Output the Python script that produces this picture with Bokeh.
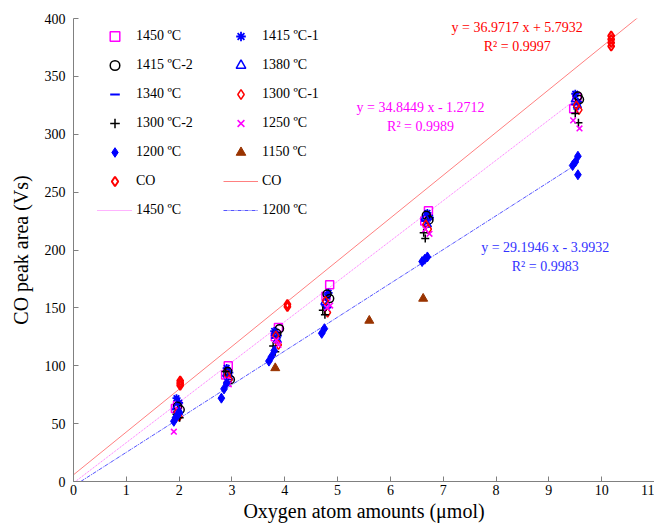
from bokeh.plotting import figure
from bokeh.models import Legend, LegendItem, Label, Range1d, FixedTicker
from bokeh.embed import file_html
from bokeh.resources import INLINE

# ---- data ----
x_1450 = [1.93, 1.97, 2.88, 2.93, 3.82, 3.88, 4.78, 4.85, 6.65, 6.72, 9.47, 9.53]
y_1450 = [63, 66, 92, 100, 125, 133, 160, 170, 225, 234, 322, 332]

x_1415_1 = [1.95, 2.00, 2.90, 2.95, 3.80, 3.87, 4.80, 4.83, 6.70, 6.75, 9.50, 9.55]
y_1415_1 = [72, 68, 98, 94, 130, 126, 160, 163, 232, 228, 335, 328]

x_1415_2 = [1.97, 2.02, 2.92, 2.97, 3.90, 3.85, 4.80, 4.85, 6.68, 6.73, 9.55, 9.58]
y_1415_2 = [65, 62, 95, 88, 132, 128, 162, 158, 230, 226, 333, 330]

x_1380 = [1.95, 1.99, 2.90, 2.94, 3.82, 3.86, 4.76, 4.80, 6.66, 6.70, 9.50, 9.54]
y_1380 = [64, 60, 93, 90, 128, 122, 155, 152, 228, 222, 330, 325]

x_1340 = [1.94, 1.98, 2.89, 2.93, 3.80, 3.84, 4.75, 4.79, 6.64, 6.69, 9.48, 9.52]
y_1340 = [60, 58, 90, 86, 124, 120, 152, 150, 225, 220, 326, 322]

x_1300_1 = [1.96, 2.00, 2.91, 2.95, 3.83, 3.88, 4.77, 4.81, 6.67, 6.72, 9.52, 9.57]
y_1300_1 = [60, 56, 92, 88, 126, 118, 156, 146, 222, 218, 325, 321]

x_1300_2 = [1.95, 2.01, 2.88, 2.92, 3.78, 3.82, 4.72, 4.76, 6.63, 6.66, 9.50, 9.56]
y_1300_2 = [58, 55, 95, 86, 117, 112, 148, 144, 215, 210, 318, 310]

x_1250 = [1.90, 1.98, 2.90, 2.94, 3.84, 3.88, 4.80, 4.86, 6.66, 6.74, 9.46, 9.58]
y_1250 = [43, 62, 88, 84, 122, 118, 150, 152, 218, 214, 312, 305]

x_1200 = [1.90, 1.93, 1.97, 2.00, 2.80, 2.85, 2.90, 3.70, 3.75, 3.80,
          4.70, 4.75, 6.60, 6.65, 6.70, 9.45, 9.50, 9.55, 9.55]
y_1200 = [52, 55, 57, 60, 72, 80, 85, 104, 108, 113,
          128, 132, 190, 192, 194, 273, 276, 281, 265]

x_1150 = [3.82, 5.60, 6.62]
y_1150 = [98, 139, 158]

x_co = [2.02, 2.02, 2.02, 4.05, 4.05, 10.18, 10.18, 10.18, 10.18]
y_co = [83, 85, 87, 151, 153, 376, 379, 382, 385]

# linear fits: slope, intercept, x-extent
fit_co = (36.9717, 5.7932, 0.0, 11.0)
fit_1450 = (34.8449, -1.2712, 0.04, 9.5)
fit_1200 = (29.1946, -3.9932, 0.14, 9.5)

eq_co = ["y = 36.9717 x + 5.7932", "R\u00b2 = 0.9997"]
eq_1450 = ["y = 34.8449 x - 1.2712", "R\u00b2 = 0.9989"]
eq_1200 = ["y = 29.1946 x - 3.9932", "R\u00b2 = 0.9983"]

x_ticks = list(range(0, 12))
y_ticks = list(range(0, 401, 50))

FONT = "Liberation Serif"

p = figure(width=654, height=524, output_backend="svg", toolbar_location=None,
           x_range=Range1d(0, 11), y_range=Range1d(0, 400),
           min_border_left=73, min_border_right=0, min_border_top=18, min_border_bottom=41)
p.outline_line_color = None
p.grid.visible = False

for ax in (p.xaxis[0], p.yaxis[0]):
    ax.axis_line_color = "#808080"
    ax.major_tick_line_color = "#808080"
    ax.major_tick_in = 5
    ax.major_tick_out = 0
    ax.minor_tick_line_color = None
    ax.major_label_text_font = FONT
    ax.major_label_text_font_size = "14px"
    ax.major_label_text_color = "black"
    ax.axis_label_text_font = FONT
    ax.axis_label_text_font_size = "20px"
    ax.axis_label_text_font_style = "normal"
    ax.axis_label_text_color = "black"

p.xaxis.major_label_standoff = 3
p.xaxis.axis_label_standoff = 2
p.yaxis.major_label_standoff = 8
p.yaxis.axis_label_standoff = 10

p.xaxis.ticker = FixedTicker(ticks=x_ticks)
p.yaxis.ticker = FixedTicker(ticks=y_ticks)
p.xaxis.axis_label = "Oxygen atom amounts (\u03bcmol)"
p.yaxis.axis_label = "CO peak area (Vs)"

# fit lines
def fit_line(fit, **kw):
    m, b, x0, x1 = fit
    return p.line([x0, x1], [m * x0 + b, m * x1 + b], **kw)

r_lco = fit_line(fit_co, line_color="#ff8080", line_width=1)
r_l1450 = fit_line(fit_1450, line_color="#ff66ff", line_width=1, line_dash="1 1")
r_l1200 = fit_line(fit_1200, line_color="#5555ff", line_width=1, line_dash="4 1 1 1")

STYLES = {
    "1450": dict(marker="square", fill_color=None, line_color="#ff00ff", line_width=1.5),
    "1415_1": dict(marker="asterisk", line_color="#0000ff", line_width=1.8),
    "1415_2": dict(marker="circle", fill_color=None, line_color="black", line_width=1.5),
    "1380": dict(marker="triangle", fill_color=None, line_color="#0000ff", line_width=1.5),
    "1340": dict(marker="dash", line_color="#0000ff", line_width=2),
    "1300_1": dict(marker="diamond", fill_color=None, line_color="#ff0000", line_width=1.5),
    "1300_2": dict(marker="cross", line_color="black", line_width=1.5),
    "1250": dict(marker="x", line_color="#ff00ff", line_width=1.5),
    "1200": dict(marker="diamond", fill_color="#0000ff", line_color="#0000ff", line_width=1),
    "1150": dict(marker="triangle", fill_color="#993300", line_color="#993300", line_width=1),
    "co": dict(marker="diamond", fill_color=None, line_color="#ff0000", line_width=2),
}
SIZES = {"1450": 8, "1415_1": 8, "1415_2": 8, "1380": 8, "1340": 6, "1300_1": 9,
         "1300_2": 8, "1250": 8, "1200": 10, "1150": 9, "co": 9}

DATA = {
    "1450": (x_1450, y_1450), "1415_1": (x_1415_1, y_1415_1),
    "1415_2": (x_1415_2, y_1415_2), "1380": (x_1380, y_1380),
    "1340": (x_1340, y_1340), "1300_1": (x_1300_1, y_1300_1),
    "1300_2": (x_1300_2, y_1300_2), "1250": (x_1250, y_1250),
    "1200": (x_1200, y_1200), "1150": (x_1150, y_1150), "co": (x_co, y_co),
}
LABELS = {"1450": "1450 \u00baC", "1415_1": "1415 \u00baC-1", "1415_2": "1415 \u00baC-2",
          "1380": "1380 \u00baC", "1340": "1340 \u00baC", "1300_1": "1300 \u00baC-1",
          "1300_2": "1300 \u00baC-2", "1250": "1250 \u00baC", "1200": "1200 \u00baC",
          "1150": "1150 \u00baC", "co": "CO"}

items = []
for k in DATA:
    xs, ys = DATA[k]
    r = p.scatter(xs, ys, size=SIZES[k], **STYLES[k])
    items.append(LegendItem(label=LABELS[k], renderers=[r]))

items += [
    LegendItem(label="CO", renderers=[r_lco]),
    LegendItem(label="1450 \u00baC", renderers=[r_l1450]),
    LegendItem(label="1200 \u00baC", renderers=[r_l1200]),
]
legend = Legend(items=items, orientation="horizontal", ncols=2,
                location=(24, 259), padding=0, margin=0, spacing=5,
                glyph_width=35, glyph_height=24, label_height=24, label_width=82,
                label_standoff=4,
                label_text_font=FONT, label_text_font_size="14px",
                label_text_color="black",
                background_fill_alpha=0, border_line_color=None)
p.add_layout(legend, "center")

def eq_labels(lines, xc, yc, color):
    for i, t in enumerate(lines):
        p.add_layout(Label(x=xc, y=yc - i * 16.5, text=t, text_align="center",
                           text_baseline="middle", text_font=FONT,
                           text_font_size="14px", text_color=color))

eq_labels(eq_co, 8.40, 392, "#ff0000")
eq_labels(eq_1450, 6.57, 323, "#ff00ff")
eq_labels(eq_1200, 8.93, 202, "#3333ff")

open("out.html", "w").write(file_html(p, INLINE))
